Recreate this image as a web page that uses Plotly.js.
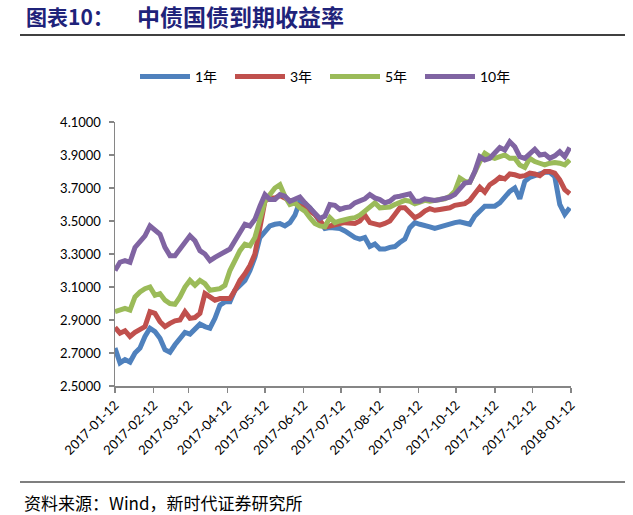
<!DOCTYPE html>
<html>
<head>
<meta charset="utf-8">
<script src="https://cdn.plot.ly/plotly-3.0.1.min.js"></script>
<style>
html,body{margin:0;padding:0;background:#fff;}
#chart{width:633px;height:515px;}
</style>
</head>
<body>
<div id="chart"></div>
<script>
const dates = [
"2017-01-12","2017-01-16","2017-01-20","2017-01-24","2017-01-28","2017-02-01","2017-02-05","2017-02-09","2017-02-13","2017-02-17",
"2017-02-21","2017-02-25","2017-03-01","2017-03-05","2017-03-09","2017-03-13","2017-03-17","2017-03-21","2017-03-25","2017-03-29",
"2017-04-02","2017-04-06","2017-04-10","2017-04-14","2017-04-18","2017-04-22","2017-04-26","2017-04-30","2017-05-04","2017-05-08",
"2017-05-12","2017-05-16","2017-05-20","2017-05-24","2017-05-28","2017-06-01","2017-06-05","2017-06-09","2017-06-13","2017-06-17",
"2017-06-21","2017-06-25","2017-06-29","2017-07-03","2017-07-07","2017-07-11","2017-07-15","2017-07-19","2017-07-23","2017-07-27",
"2017-07-31","2017-08-04","2017-08-08","2017-08-12","2017-08-16","2017-08-20","2017-08-24","2017-08-28","2017-09-01","2017-09-05",
"2017-09-09","2017-09-13","2017-09-17","2017-09-21","2017-09-25","2017-09-29","2017-10-03","2017-10-07","2017-10-11","2017-10-15",
"2017-10-19","2017-10-23","2017-10-27","2017-10-31","2017-11-04","2017-11-08","2017-11-12","2017-11-16","2017-11-20","2017-11-24",
"2017-11-28","2017-12-02","2017-12-06","2017-12-10","2017-12-14","2017-12-18","2017-12-22","2017-12-26","2017-12-30","2018-01-03",
"2018-01-07","2018-01-11"
];

const y1 = [
2.73,2.64,2.66,2.645,2.70,2.73,2.80,2.85,2.83,2.79,
2.72,2.705,2.75,2.79,2.825,2.815,2.85,2.875,2.86,2.85,
2.91,2.99,3.01,3.01,3.08,3.115,3.14,3.20,3.28,3.40,
3.43,3.47,3.48,3.485,3.47,3.49,3.535,3.62,3.605,3.58,
3.54,3.50,3.455,3.46,3.455,3.455,3.44,3.42,3.40,3.39,
3.40,3.345,3.36,3.33,3.33,3.34,3.345,3.37,3.39,3.46,
3.49,3.48,3.475,3.465,3.455,3.465,3.475,3.485,3.49,3.495,
3.49,3.48,3.53,3.56,3.59,3.59,3.59,3.61,3.645,3.68,
3.70,3.635,3.74,3.765,3.775,3.785,3.795,3.795,3.77,3.60,
3.54,3.58
];

const y3 = [
2.855,2.82,2.835,2.80,2.825,2.84,2.86,2.95,2.94,2.89,
2.86,2.88,2.895,2.90,2.95,2.91,2.915,2.94,3.06,3.04,
3.02,3.03,3.03,3.03,3.08,3.14,3.18,3.23,3.30,3.45,
3.62,3.64,3.64,3.655,3.64,3.625,3.61,3.595,3.58,3.56,
3.54,3.50,3.465,3.47,3.48,3.485,3.49,3.485,3.485,3.50,
3.535,3.49,3.48,3.475,3.485,3.50,3.54,3.58,3.58,3.55,
3.52,3.535,3.56,3.575,3.565,3.57,3.575,3.58,3.595,3.60,
3.605,3.625,3.66,3.705,3.675,3.72,3.74,3.765,3.755,3.785,
3.78,3.77,3.775,3.79,3.785,3.775,3.80,3.80,3.79,3.75,
3.69,3.665
];

const y5 = [
2.95,2.96,2.97,2.96,3.04,3.07,3.09,3.10,3.05,3.06,
3.02,3.00,2.995,3.04,3.10,3.14,3.11,3.14,3.12,3.08,
3.085,3.09,3.11,3.20,3.26,3.32,3.36,3.35,3.40,3.51,
3.62,3.66,3.70,3.72,3.65,3.60,3.61,3.58,3.56,3.52,
3.485,3.47,3.465,3.52,3.49,3.50,3.51,3.515,3.52,3.535,
3.56,3.59,3.61,3.58,3.58,3.585,3.60,3.61,3.625,3.62,
3.605,3.615,3.625,3.62,3.625,3.63,3.635,3.65,3.68,3.76,
3.74,3.735,3.80,3.86,3.91,3.89,3.88,3.89,3.90,3.88,
3.88,3.84,3.825,3.88,3.86,3.85,3.84,3.85,3.855,3.85,
3.84,3.87
];

const y10 = [
3.20,3.25,3.26,3.25,3.34,3.37,3.41,3.47,3.44,3.42,
3.34,3.29,3.29,3.33,3.36,3.41,3.38,3.32,3.30,3.26,
3.28,3.295,3.31,3.33,3.38,3.43,3.48,3.47,3.51,3.59,
3.66,3.63,3.63,3.66,3.65,3.62,3.63,3.645,3.61,3.58,
3.55,3.515,3.53,3.60,3.595,3.57,3.58,3.585,3.61,3.62,
3.635,3.66,3.64,3.63,3.61,3.62,3.645,3.65,3.66,3.665,
3.62,3.62,3.635,3.63,3.625,3.63,3.635,3.645,3.66,3.70,
3.73,3.735,3.80,3.89,3.87,3.88,3.91,3.945,3.93,3.98,
3.95,3.89,3.88,3.91,3.935,3.90,3.905,3.88,3.895,3.92,
3.89,3.945
];

const seriesNames = ["1年","3年","5年","10年"];
const seriesColors = ["#4F81BD","#C0504D","#9BBB59","#8064A2"];
const tickDates = ["2017-01-12","2017-02-12","2017-03-12","2017-04-12","2017-05-12","2017-06-12","2017-07-12","2017-08-12","2017-09-12","2017-10-12","2017-11-12","2017-12-12","2018-01-12"];
const yTicks = [2.5,2.7,2.9,3.1,3.3,3.5,3.7,3.9,4.1];

const W = 633, H = 515, ML = 115, MR = 62, MT = 122, MB = 129;
const PW = W - ML - MR, PH = H - MT - MB;
const px = v => (v - ML) / PW;
const py = v => (H - MB - v) / PH;

const ys = [y1, y3, y5, y10];
const traces = ys.map((y, i) => ({
  type: "scatter",
  mode: "lines",
  x: dates,
  y: y,
  name: seriesNames[i],
  line: {color: seriesColors[i], width: 5},
  hoverinfo: "x+y+name"
}));

const axisFont = {family: "Lato, 'Noto Sans CJK SC', sans-serif", size: 13, color: "#000"};
const layout = {
  width: W, height: H,
  margin: {l: ML, r: MR, t: MT, b: MB, pad: 0},
  paper_bgcolor: "#fff",
  plot_bgcolor: "#fff",
  showlegend: true,
  legend: {
    orientation: "h",
    x: px(135), xanchor: "left",
    y: py(77), yanchor: "middle",
    font: {family: "Lato, 'Noto Sans CJK SC', sans-serif", size: 14, color: "#000"},
    entrywidth: 30, entrywidthmode: "pixels",
    itemwidth: 50,
    bgcolor: "rgba(0,0,0,0)"
  },
  xaxis: {
    type: "date",
    range: ["2017-01-12", "2018-01-12"],
    tickmode: "array",
    tickvals: tickDates,
    ticktext: tickDates,
    tickangle: -45,
    ticks: "outside",
    ticklen: 5,
    tickwidth: 1.5,
    tickcolor: "#868686",
    showline: true,
    linecolor: "#868686",
    linewidth: 1.5,
    showgrid: false,
    zeroline: false,
    tickfont: axisFont
  },
  yaxis: {
    range: [2.5, 4.1],
    tickmode: "array",
    tickvals: yTicks,
    tickformat: ".4f",
    ticks: "outside",
    ticklen: 5,
    tickwidth: 1.5,
    tickcolor: "#868686",
    showline: true,
    linecolor: "#868686",
    linewidth: 1.5,
    showgrid: false,
    zeroline: false,
    ticklabelstandoff: 5,
    tickfont: axisFont
  },
  shapes: [
    {type: "line", xref: "paper", yref: "paper", x0: px(20), x1: px(625), y0: py(35), y1: py(35), line: {color: "#000", width: 1.5}},
    {type: "line", xref: "paper", yref: "paper", x0: px(20), x1: px(625), y0: py(482), y1: py(482), line: {color: "#000", width: 1.2}}
  ],
  annotations: [
    {xref: "paper", yref: "paper", x: px(24), y: py(16), xanchor: "left", yanchor: "middle", showarrow: false,
     text: "<b>图表10：</b>", font: {family: "'Noto Sans CJK SC', sans-serif", size: 21, color: "#1f237a"}},
    {xref: "paper", yref: "paper", x: px(135), y: py(16), xanchor: "left", yanchor: "middle", showarrow: false,
     text: "<b>中债国债到期收益率</b>", font: {family: "'Noto Sans CJK SC', sans-serif", size: 23, color: "#1f237a"}},
    {xref: "paper", yref: "paper", x: px(22), y: py(502), xanchor: "left", yanchor: "middle", showarrow: false,
     text: "资料来源：Wind，新时代证券研究所", font: {family: "'Noto Sans CJK SC', sans-serif", size: 17, color: "#000"}}
  ]
};

Plotly.newPlot("chart", traces, layout, {displayModeBar: false, staticPlot: true});
</script>
</body>
</html>
